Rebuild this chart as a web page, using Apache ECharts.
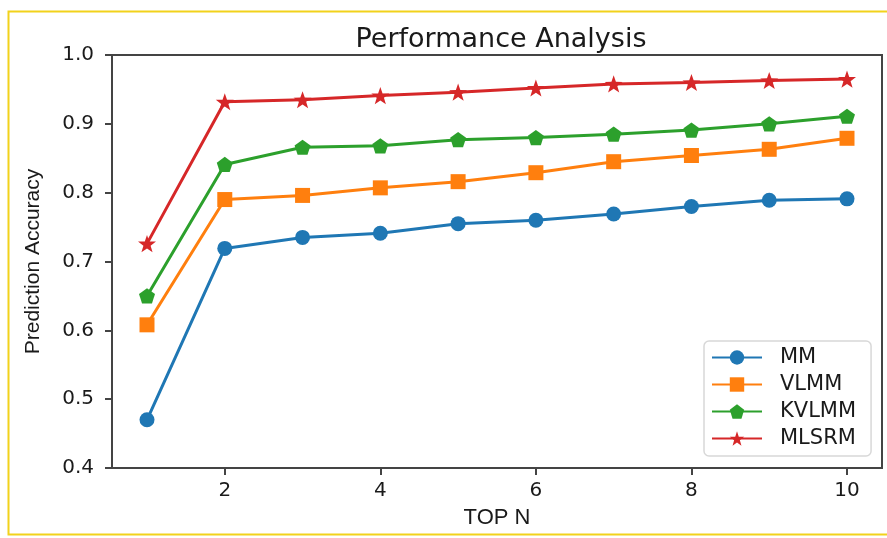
<!DOCTYPE html>
<html>
<head>
<meta charset="utf-8">
<script src="https://cdn.jsdelivr.net/npm/echarts@6/dist/echarts.min.js"></script>
<style>
html,body{margin:0;padding:0;background:#fff;}
#chart{width:887px;height:538px;}
</style>
</head>
<body>
<div id="chart"></div>
<script>
// ---- data ----
const topN = [1, 2, 3, 4, 5, 6, 7, 8, 9, 10];
const mm     = [0.470, 0.719, 0.735, 0.741, 0.755, 0.760, 0.769, 0.780, 0.789, 0.791];
const vlmm   = [0.608, 0.790, 0.796, 0.807, 0.816, 0.829, 0.845, 0.854, 0.863, 0.879];
const kvlmm  = [0.650, 0.841, 0.866, 0.868, 0.877, 0.880, 0.885, 0.891, 0.900, 0.911];
const mlsrm  = [0.726, 0.932, 0.935, 0.941, 0.946, 0.952, 0.958, 0.960, 0.963, 0.965];
const seriesNames = ['MM', 'VLMM', 'KVLMM', 'MLSRM'];
const xTickLabels = [2, 4, 6, 8, 10];
const yTicks = [0.4, 0.5, 0.6, 0.7, 0.8, 0.9, 1.0];

const colors = ['#1f77b4', '#ff7f0e', '#2ca02c', '#d62728'];
const pentagon = 'path://M0,-10 L9.51,-3.09 L5.88,8.09 L-5.88,8.09 L-9.51,-3.09 Z';
const star = 'path://M0,-10 L2.35,-3.24 L9.51,-3.09 L3.80,1.24 L5.88,8.09 L0,4.1 L-5.88,8.09 L-3.80,1.24 L-9.51,-3.09 L-2.35,-3.24 Z';
const symbols = ['circle', 'rect', pentagon, star];
const symbolSizes = [15, 15, 16, 18];
const allValues = [mm, vlmm, kvlmm, mlsrm];

const chart = echarts.init(document.getElementById('chart'), null, {renderer: 'canvas'});
const axisColor = '#444';
const option = {
  animation: false,
  backgroundColor: '#fff',
  color: colors,
  title: {
    text: 'Performance Analysis',
    left: 496,
    top: 21,
    textAlign: 'center',
    textStyle: {fontFamily: 'DejaVu Sans', fontSize: 27, fontWeight: 'normal', color: '#1a1a1a'}
  },
  graphic: [{
    type: 'rect', silent: true, z: -1,
    shape: {x: 8.5, y: 11.5, width: 900, height: 523},
    style: {fill: 'none', stroke: '#f2d21b', lineWidth: 2}
  }],
  grid: {
    left: 112, right: 5, top: 55, bottom: 70,
    outerBoundsMode: 'none', containLabel: false,
    show: true, borderColor: axisColor, borderWidth: 2, backgroundColor: 'transparent'
  },
  legend: {
    orient: 'vertical',
    left: 704, top: 341,
    padding: [6, 15, 7, 7],
    itemWidth: 50, itemHeight: 18, itemGap: 6,
    backgroundColor: '#fff',
    borderColor: '#d8d8d8', borderWidth: 1.5, borderRadius: 5,
    textStyle: {fontFamily: 'DejaVu Sans', fontSize: 21, color: '#1a1a1a', padding: [0, 0, 0, 13]},
    data: seriesNames
  },
  xAxis: {
    type: 'value',
    min: 0.55, max: 10.45,
    name: 'TOP N', nameLocation: 'middle', nameGap: 39,
    nameTextStyle: {fontFamily: 'Liberation Sans', fontSize: 22, color: '#1a1a1a'},
    splitLine: {show: false},
    axisLine: {show: true, lineStyle: {color: axisColor, width: 2}},
    axisTick: {show: true, length: 7, lineStyle: {color: axisColor, width: 2}, customValues: xTickLabels},
    axisLabel: {fontFamily: 'DejaVu Sans', fontSize: 20, color: '#1a1a1a', margin: 13, customValues: xTickLabels}
  },
  yAxis: {
    type: 'value',
    min: 0.4, max: 1.0, interval: 0.1,
    name: 'Prediction Accuracy', nameLocation: 'middle', nameGap: 68, nameRotate: 90,
    nameTextStyle: {fontFamily: 'Liberation Sans', fontSize: 21, color: '#1a1a1a'},
    splitLine: {show: false},
    axisLine: {show: true, lineStyle: {color: axisColor, width: 2}},
    axisTick: {show: true, length: 7, lineStyle: {color: axisColor, width: 2}},
    axisLabel: {fontFamily: 'DejaVu Sans', fontSize: 20, color: '#1a1a1a', margin: 18,
      formatter: v => v.toFixed(1)}
  },
  series: seriesNames.map((name, i) => ({
    name: name,
    type: 'line',
    data: topN.map((x, j) => [x, allValues[i][j]]),
    symbol: symbols[i],
    symbolSize: symbolSizes[i],
    symbolKeepAspect: true,
    showAllSymbol: true,
    lineStyle: {width: 3, color: colors[i]},
    itemStyle: {color: colors[i], borderWidth: 0},
    z: 2 + i
  }))
};
chart.setOption(option);
</script>
</body>
</html>
